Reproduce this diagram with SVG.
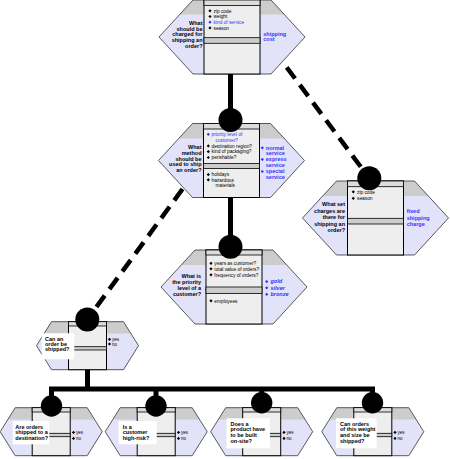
<svg xmlns="http://www.w3.org/2000/svg" xmlns:xlink="http://www.w3.org/1999/xlink" width="450" height="459" viewBox="0 0 450 459">
<style>
text{font-family:"Liberation Sans",Arial,sans-serif}
.hex{fill:#e2e2f8}
.hexo{fill:none;stroke:#333;stroke-width:0.8}
.band{fill:#cccccc}
.col{fill:#eeeeee;stroke:#000;stroke-width:1}
.hdr{fill:#dcdcdc;stroke:#000;stroke-width:0.8}
.div{fill:#cccccc;stroke:#000;stroke-width:0.8}
.box{fill:#fff}
.q{font-weight:bold;font-size:5.5px;text-anchor:end;fill:#000}
.s{font-weight:bold;font-size:5.5px;fill:#000}
.o{font-weight:bold;font-size:5.5px;fill:#3333ff}
.oi{font-weight:bold;font-style:italic;font-size:5.5px;fill:#3333ff}
.i{font-size:4.8px;fill:#000}
.ib{font-size:4.8px;fill:#3333ff}
.yn{font-size:4.5px;fill:#000}
.bk{fill:#000}
.bl{fill:#3333ff}
.thick{fill:none;stroke:#000;stroke-width:5;stroke-linejoin:miter}
.dash{fill:none;stroke:#000;stroke-width:4.5;stroke-dasharray:14 8}
</style>
<defs>
<path id="dm" d="M0,-1.6L1.6,0L0,1.6L-1.6,0Z"/>
</defs>

<g id="node-shipping-charge">
<polygon class="hex" points="193,0 271,0 305,37 271,74 193,74 159,37"/>
<polygon class="band" points="193,0 271,0 284.4,14.5 179.6,14.5"/>
<polygon class="hexo" points="193,0 271,0 305,37 271,74 193,74 159,37"/>
<rect class="col" x="204" y="0" width="56" height="74"/>
<rect class="hdr" x="204" y="0" width="56" height="5.5"/>
<rect class="div" x="204" y="37.7" width="56" height="5.6"/>
<text class="q"><tspan x="202.5" y="25">What</tspan><tspan x="202.5" y="30.7">should be</tspan><tspan x="202.5" y="36.4">charged for</tspan><tspan x="202.5" y="42.1">shipping an</tspan><tspan x="202.5" y="47.8">order?</tspan></text>
<use href="#dm" class="bk" x="210" y="10.8"/><text class="i" x="213.5" y="12.5">zip code</text>
<use href="#dm" class="bk" x="210" y="16.5"/><text class="i" x="213.5" y="18.2">weight</text>
<use href="#dm" class="bl" x="210" y="22.2"/><text class="ib" x="213.5" y="23.9">kind of service</text>
<use href="#dm" class="bk" x="210" y="27.9"/><text class="i" x="213.5" y="29.6">season</text>
<text class="o"><tspan x="263.3" y="35.7">shipping</tspan><tspan x="263.3" y="41.4">cost</tspan></text>
</g>

<g id="node-ship-method">
<polygon class="hex" points="192.5,123.5 270.5,123.5 304.5,160.5 270.5,197.5 192.5,197.5 158.5,160.5"/>
<polygon class="band" points="192.5,123.5 270.5,123.5 284.3,138.5 178.7,138.5"/>
<polygon class="hexo" points="192.5,123.5 270.5,123.5 304.5,160.5 270.5,197.5 192.5,197.5 158.5,160.5"/>
<rect class="col" x="203.5" y="123.5" width="56" height="74"/>
<rect class="hdr" x="203.5" y="123.5" width="56" height="5.5"/>
<rect class="div" x="203.5" y="163.5" width="56" height="5"/>
<text class="q"><tspan x="201.5" y="149.3">What</tspan><tspan x="201.5" y="155">method</tspan><tspan x="201.5" y="160.7">should be</tspan><tspan x="201.5" y="166.4">used to ship</tspan><tspan x="201.5" y="172.1">an order?</tspan></text>
<use href="#dm" class="bl" x="208.3" y="134.3"/><text class="ib"><tspan x="211.5" y="136">priority level of</tspan><tspan x="215.5" y="141.7">customer?</tspan></text>
<use href="#dm" class="bk" x="208.3" y="145.9"/><text class="i" x="211.5" y="147.6">destination region?</text>
<use href="#dm" class="bk" x="208.3" y="151.6"/><text class="i" x="211.5" y="153.3">kind of packaging?</text>
<use href="#dm" class="bk" x="208.3" y="157.5"/><text class="i" x="211.5" y="159.2">perishable?</text>
<use href="#dm" class="bk" x="208.3" y="174.6"/><text class="i" x="211.5" y="176.3">holidays</text>
<use href="#dm" class="bk" x="208.3" y="179.8"/><text class="i"><tspan x="211.5" y="181.5">hazardous</tspan><tspan x="215.5" y="187">materials</tspan></text>
<use href="#dm" class="bl" x="262.3" y="147.8"/><use href="#dm" class="bl" x="262.3" y="159.4"/><use href="#dm" class="bl" x="262.3" y="171.5"/>
<text class="o"><tspan x="265.8" y="149.7">normal</tspan><tspan x="265.8" y="155.3">service</tspan><tspan x="265.8" y="161.3">express</tspan><tspan x="265.8" y="167.4">service</tspan><tspan x="265.8" y="173.4">special</tspan><tspan x="265.8" y="179">service</tspan></text>
</g>

<g id="node-priority">
<polygon class="hex" points="195,250 273,250 307,287 273,324 195,324 161,287"/>
<polygon class="band" points="195,250 273,250 286.8,265 181.2,265"/>
<polygon class="hexo" points="195,250 273,250 307,287 273,324 195,324 161,287"/>
<rect class="col" x="206" y="250" width="56" height="74"/>
<rect class="hdr" x="206" y="250" width="56" height="5"/>
<rect class="div" x="206" y="287" width="56" height="6.5"/>
<text class="q"><tspan x="201" y="278">What is</tspan><tspan x="201" y="283.8">the priority</tspan><tspan x="201" y="289.6">level of a</tspan><tspan x="201" y="296">customer?</tspan></text>
<use href="#dm" class="bk" x="211" y="263.3"/><text class="i" x="214.3" y="265">years as customer?</text>
<use href="#dm" class="bk" x="211" y="268.8"/><text class="i" x="214.3" y="270.5">total value of orders?</text>
<use href="#dm" class="bk" x="211" y="274.8"/><text class="i" x="214.3" y="276.5">frequency of orders?</text>
<use href="#dm" class="bk" x="211" y="300.8"/><text class="i" x="214.3" y="302.5">employees</text>
<use href="#dm" class="bl" x="266.7" y="281.6"/><use href="#dm" class="bl" x="266.7" y="287.8"/><use href="#dm" class="bl" x="266.7" y="294.3"/>
<text class="oi"><tspan x="270.5" y="283.3">gold</tspan><tspan x="270.5" y="289.5">silver</tspan><tspan x="270.5" y="296">bronze</tspan></text>
</g>

<g id="node-set-charges">
<polygon class="hex" points="336.5,181 414.5,181 448.5,218 414.5,255 336.5,255 302.5,218"/>
<polygon class="band" points="336.5,181 414.5,181 428.3,196 322.7,196"/>
<polygon class="hexo" points="336.5,181 414.5,181 448.5,218 414.5,255 336.5,255 302.5,218"/>
<rect class="col" x="347.5" y="181" width="56" height="74"/>
<rect class="hdr" x="347.5" y="181" width="56" height="5.7"/>
<rect class="div" x="347.5" y="218.3" width="56" height="5.7"/>
<text class="q"><tspan x="345" y="206.3">What set</tspan><tspan x="345" y="212.8">charges are</tspan><tspan x="345" y="219.2">there for</tspan><tspan x="345" y="225.6">shipping an</tspan><tspan x="345" y="232">order?</tspan></text>
<use href="#dm" class="bk" x="353.3" y="191.8"/><text class="i" x="357" y="193.5">zip code</text>
<use href="#dm" class="bk" x="353.3" y="198.3"/><text class="i" x="357" y="200">season</text>
<text class="o"><tspan x="406.7" y="213">fixed</tspan><tspan x="406.7" y="219.5">shipping</tspan><tspan x="406.7" y="226">charge</tspan></text>
</g>

<g id="node-can-ship">
<polygon class="hex" points="51.5,321.7 123.5,321.7 138.5,345.7 123.5,369.7 51.5,369.7 36.5,345.7"/>
<polygon class="band" points="51.5,321.7 123.5,321.7 130.8,333.4 44.2,333.4"/>
<polygon class="hexo" points="51.5,321.7 123.5,321.7 138.5,345.7 123.5,369.7 51.5,369.7 36.5,345.7"/>
<rect class="col" x="68.5" y="321.7" width="38" height="48"/>
<rect class="hdr" x="68.5" y="321.7" width="38" height="4.3"/>
<rect class="div" x="68.5" y="346.7" width="38" height="3.3"/>
<rect class="box" x="41.7" y="333.3" width="32.6" height="26"/>
<text class="s"><tspan x="45" y="341">Can an</tspan><tspan x="45" y="345.8">order be</tspan><tspan x="45" y="350.6">shipped?</tspan></text>
<use href="#dm" class="bk" x="109.5" y="339.3"/><text class="yn" x="112" y="340.8">yes</text>
<use href="#dm" class="bk" x="109.5" y="344"/><text class="yn" x="112" y="345.5">no</text>
</g>

<g id="node-destination">
<polygon class="hex" points="15.2,407.7 87.2,407.7 102.2,431.7 87.2,455.7 15.2,455.7 0.2,431.7"/>
<polygon class="band" points="15.2,407.7 87.2,407.7 94.5,419.4 7.9,419.4"/>
<polygon class="hexo" points="15.2,407.7 87.2,407.7 102.2,431.7 87.2,455.7 15.2,455.7 0.2,431.7"/>
<rect class="col" x="32.2" y="407.7" width="38" height="48"/>
<rect class="hdr" x="32.2" y="407.7" width="38" height="4.3"/>
<rect class="div" x="32.2" y="433.3" width="38" height="3.4"/>
<rect class="box" x="12.7" y="421" width="36.6" height="23.3"/>
<text class="s"><tspan x="15.3" y="428.5">Are orders</tspan><tspan x="15.3" y="434.4">shipped to a</tspan><tspan x="15.3" y="440.3">destination?</tspan></text>
<use href="#dm" class="bk" x="73.5" y="432.4"/><text class="yn" x="76" y="434">yes</text>
<use href="#dm" class="bk" x="73.5" y="438.4"/><text class="yn" x="76" y="440">no</text>
</g>

<g id="node-high-risk">
<polygon class="hex" points="120.2,407.7 192.2,407.7 207.2,431.7 192.2,455.7 120.2,455.7 105.2,431.7"/>
<polygon class="band" points="120.2,407.7 192.2,407.7 199.5,419.4 112.9,419.4"/>
<polygon class="hexo" points="120.2,407.7 192.2,407.7 207.2,431.7 192.2,455.7 120.2,455.7 105.2,431.7"/>
<rect class="col" x="137.2" y="407.7" width="38" height="48"/>
<rect class="hdr" x="137.2" y="407.7" width="38" height="4.3"/>
<rect class="div" x="137.2" y="433.3" width="38" height="3.4"/>
<rect class="box" x="118.5" y="421" width="38.2" height="23.3"/>
<text class="s"><tspan x="122.7" y="428.5">Is a</tspan><tspan x="122.7" y="434.4">customer</tspan><tspan x="122.7" y="440.3">high-risk?</tspan></text>
<use href="#dm" class="bk" x="178.5" y="432.4"/><text class="yn" x="181" y="434">yes</text>
<use href="#dm" class="bk" x="178.5" y="438.4"/><text class="yn" x="181" y="440">no</text>
</g>

<g id="node-on-site">
<polygon class="hex" points="225.7,407.7 297.7,407.7 312.7,431.7 297.7,455.7 225.7,455.7 210.7,431.7"/>
<polygon class="band" points="225.7,407.7 297.7,407.7 305,419.4 218.4,419.4"/>
<polygon class="hexo" points="225.7,407.7 297.7,407.7 312.7,431.7 297.7,455.7 225.7,455.7 210.7,431.7"/>
<rect class="col" x="242.7" y="407.7" width="38" height="48"/>
<rect class="hdr" x="242.7" y="407.7" width="38" height="4.3"/>
<rect class="div" x="242.7" y="433.3" width="38" height="3.4"/>
<rect class="box" x="226.5" y="418.3" width="43.5" height="30"/>
<text class="s"><tspan x="230.5" y="425.5">Does a</tspan><tspan x="230.5" y="431.2">product have</tspan><tspan x="230.5" y="436.9">to be built</tspan><tspan x="230.5" y="442.6">on-site?</tspan></text>
<use href="#dm" class="bk" x="284" y="432.4"/><text class="yn" x="286.5" y="434">yes</text>
<use href="#dm" class="bk" x="284" y="438.4"/><text class="yn" x="286.5" y="440">no</text>
</g>

<g id="node-weight-size">
<polygon class="hex" points="336.8,407.7 408.8,407.7 423.8,431.7 408.8,455.7 336.8,455.7 321.8,431.7"/>
<polygon class="band" points="336.8,407.7 408.8,407.7 416.1,419.4 329.5,419.4"/>
<polygon class="hexo" points="336.8,407.7 408.8,407.7 423.8,431.7 408.8,455.7 336.8,455.7 321.8,431.7"/>
<rect class="col" x="353.8" y="407.7" width="38" height="48"/>
<rect class="hdr" x="353.8" y="407.7" width="38" height="4.3"/>
<rect class="div" x="353.8" y="433.3" width="38" height="3.4"/>
<rect class="box" x="336" y="418.3" width="40.7" height="30"/>
<text class="s"><tspan x="340" y="425.5">Can orders</tspan><tspan x="340" y="431.2">of this weight</tspan><tspan x="340" y="436.9">and size be</tspan><tspan x="340" y="442.6">shipped?</tspan></text>
<use href="#dm" class="bk" x="395" y="432.4"/><text class="yn" x="397.5" y="434">yes</text>
<use href="#dm" class="bk" x="395" y="438.4"/><text class="yn" x="397.5" y="440">no</text>
</g>

<g id="connectors">
<path class="thick" d="M230.5,74V120"/>
<path class="thick" d="M230.5,197.5V246.7"/>
<path class="thick" d="M87.5,369.7V389"/>
<path class="thick" d="M51.5,406V389H372.5V402.7M156,389V406M261.7,389V402.7"/>
<path class="dash" d="M286.7,67.3L369.3,178.3"/>
<path class="dash" d="M182.5,189L87.3,319.5"/>
<circle class="bk" cx="230.5" cy="120" r="12"/>
<circle class="bk" cx="230.5" cy="246.7" r="12"/>
<circle class="bk" cx="369.3" cy="178.3" r="12"/>
<circle class="bk" cx="87.3" cy="319.5" r="12"/>
<circle class="bk" cx="51.5" cy="406" r="10.7"/>
<circle class="bk" cx="156" cy="406" r="10.7"/>
<circle class="bk" cx="261.7" cy="402.7" r="10.7"/>
<circle class="bk" cx="372.5" cy="402.7" r="10.7"/>
</g>
</svg>
